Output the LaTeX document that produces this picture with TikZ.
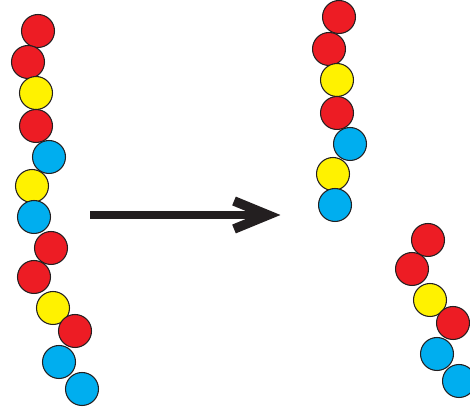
\documentclass[tikz,border=0pt]{standalone}
\usetikzlibrary{positioning}
\definecolor{beadred}{HTML}{ED1C24}
\definecolor{beadyellow}{HTML}{FFF200}
\definecolor{beadblue}{HTML}{00AEEF}
\definecolor{inkdark}{HTML}{231F20}
\tikzset{bead/.style={circle, draw=inkdark, line width=0.6pt, minimum size=0.66cm, inner sep=0pt},
         bigarrow/.style={inkdark, line width=0.16cm}}

\begin{document}
\begin{tikzpicture}[x=0.02cm,y=-0.02cm]
  \useasboundingbox (0,0) rectangle (470,408);
  % long chain on the left
  \foreach \n/\x/\y/\c in {1/38/31/beadred, 2/28/62/beadred, 3/36/93/beadyellow,
      4/36/126/beadred, 5/49/157/beadblue, 6/32/186/beadyellow, 7/34/217/beadblue,
      8/51/248/beadred, 9/34/277/beadred, 10/53/308/beadyellow, 11/75/331/beadred,
      12/59/362/beadblue, 13/82/389/beadblue}
    \node[bead, fill=\c] (l\n) at (\x,\y) {};
  % upper fragment
  \foreach \n/\x/\y/\c in {1/339/17/beadred, 2/329/49/beadred, 3/337/80/beadyellow,
      4/337/113/beadred, 5/350/144/beadblue, 6/333/174/beadyellow, 7/335/205/beadblue}
    \node[bead, fill=\c] (m\n) at (\x,\y) {};
  % lower fragment
  \foreach \n/\x/\y/\c in {1/428/240/beadred, 2/412/269/beadred, 3/430/300/beadyellow,
      4/453/323/beadred, 5/437/354/beadblue, 6/459/381/beadblue}
    \node[bead, fill=\c] (r\n) at (\x,\y) {};
  % the arrow
  \coordinate (arrtail) at (90,215);
  \coordinate (arrtip) at (268,215);
  \draw[bigarrow] (arrtail) -- (arrtip);
  \draw[bigarrow, line width=0.19cm, miter limit=10] ([shift={(-34,-14)}]arrtip) -- (arrtip) -- ([shift={(-34,14)}]arrtip);
\end{tikzpicture}
\end{document}
